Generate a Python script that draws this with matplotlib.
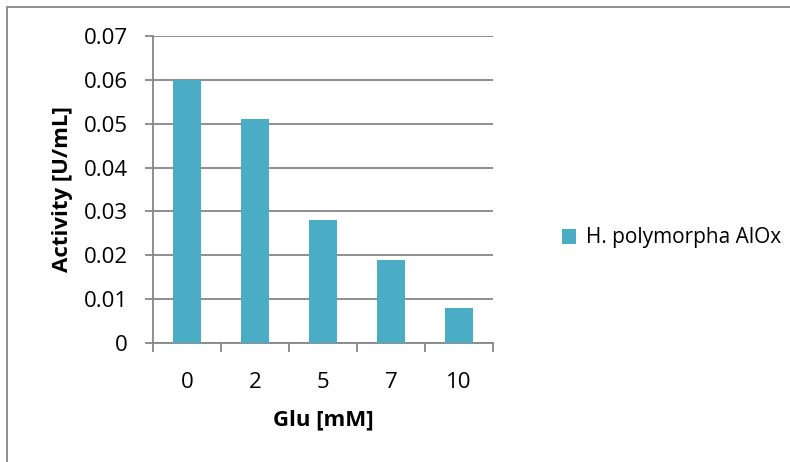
import matplotlib
matplotlib.use("Agg")
import numpy as np
import matplotlib.pyplot as plt
from matplotlib.patches import Rectangle

categories = ["0", "2", "5", "7", "10"]
activity = [0.060, 0.051, 0.028, 0.019, 0.008]
series_name = "H. polymorpha AlOx"

bar_color = "#4BACC6"
grid_color = "#868686"

plt.rcParams['font.family'] = ['Open Sans', 'DejaVu Sans']
fs = 16

fig = plt.figure(figsize=(7.9, 4.62), dpi=100)
ax = fig.add_axes([153 / 790, 1 - 343 / 462, 340 / 790, 307 / 462])

x = np.arange(len(categories))
bars = ax.bar(x, activity, width=0.4, color=bar_color, zorder=3, label=series_name)

ax.set_xlim(-0.5, len(categories) - 0.5)
ax.set_ylim(0, 0.07)
ax.set_yticks(np.arange(0, 0.071, 0.01))
ax.set_yticklabels(["0", "0.01", "0.02", "0.03", "0.04", "0.05", "0.06", "0.07"])
ax.yaxis.grid(True, color=grid_color, linewidth=1.3, zorder=0)

ax.set_xticks(x)
ax.set_xticklabels(categories)
ax.set_xticks(np.arange(-0.5, len(categories)), minor=True)
ax.tick_params(axis='x', which='major', length=0, labelsize=fs, pad=21)
ax.tick_params(axis='x', which='minor', length=6.5, color=grid_color, width=1.3)
ax.tick_params(axis='y', length=6, color=grid_color, width=1.3, labelsize=fs, pad=12)

for side in ["top", "right"]:
    ax.spines[side].set_visible(False)
for side in ["left", "bottom"]:
    ax.spines[side].set_color(grid_color)
    ax.spines[side].set_linewidth(1.3)

ax.set_xlabel("Glu [mM]", fontsize=fs, fontweight='bold', labelpad=12)
ax.set_ylabel("Activity [U/mL]", fontsize=fs, fontweight='bold', labelpad=8)

fig.legend(handles=[bars], labels=[series_name], loc='center left',
           bbox_to_anchor=(543 / 790, 1 - 238 / 462), frameon=False,
           fontsize=15, handlelength=0.7, handleheight=0.7, handletextpad=0.45)

fig.patches.append(Rectangle((7 / 790, -0.1), 1.1, 1 - 7 / 462 + 0.1,
                             transform=fig.transFigure, fill=False,
                             edgecolor=grid_color, linewidth=1.3))

fig.savefig("out.png", dpi=100)
